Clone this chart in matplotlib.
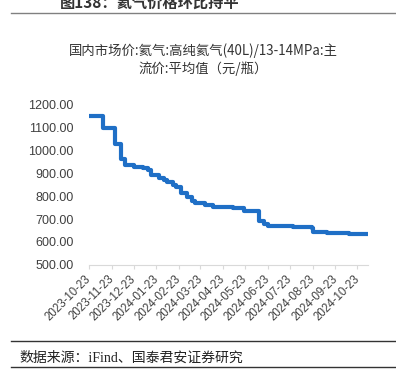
import matplotlib
matplotlib.use("Agg")
import matplotlib.pyplot as plt
import numpy as np
import pandas as pd

plt.rcParams['font.family'] = ['Liberation Sans', 'Noto Sans CJK SC', 'DejaVu Sans']

# price change points (step series)
change_dates = ['2023-10-23', '2023-11-11', '2023-11-28', '2023-12-06', '2023-12-11',
                '2023-12-24', '2024-01-04', '2024-01-12', '2024-01-16', '2024-01-27',
                '2024-02-02', '2024-02-07', '2024-02-15', '2024-02-18', '2024-02-26',
                '2024-03-04', '2024-03-11', '2024-03-15', '2024-03-29', '2024-04-09',
                '2024-05-06', '2024-05-21', '2024-06-11', '2024-06-17', '2024-06-23',
                '2024-07-27', '2024-08-22', '2024-08-24', '2024-09-11', '2024-10-11',
                '2024-11-06']
change_values = [1150, 1100, 1030, 965, 935,
                 930, 925, 915, 893, 880,
                 870, 862, 850, 840, 813,
                 795, 779, 769, 762, 752,
                 747, 737, 693, 677, 668,
                 665, 660, 645, 638, 633,
                 633]

tick_labels = ['2023-10-23', '2023-11-23', '2023-12-23', '2024-01-23', '2024-02-23',
               '2024-03-23', '2024-04-23', '2024-05-23', '2024-06-23', '2024-07-23',
               '2024-08-23', '2024-09-23', '2024-10-23']

dates = pd.to_datetime(change_dates)
ticks = pd.to_datetime(tick_labels)

fig = plt.figure(figsize=(3.96, 3.86), dpi=100)
ax = fig.add_axes([0.2247, 0.3142, 0.7039, 0.4138])

ax.plot(dates, change_values, drawstyle='steps-post', color='#1f6fc6', lw=3,
        solid_capstyle='round', solid_joinstyle='round')

ax.set_xlim(ticks[0], pd.Timestamp('2024-11-06'))
ax.set_ylim(500, 1200)
ax.set_yticks(np.arange(500, 1201, 100))
ax.set_yticklabels([f'{v:.2f}' for v in range(500, 1201, 100)])
ax.set_xticks(ticks)
ax.set_xticklabels(tick_labels, rotation=45, ha='right', va='center',
                   rotation_mode='anchor')

for s in ['top', 'right', 'left']:
    ax.spines[s].set_visible(False)
ax.spines['bottom'].set_color('#d9d9d9')
ax.tick_params(axis='y', length=0, pad=11, labelsize=9, labelcolor='#404040')
ax.tick_params(axis='x', length=3, color='#d9d9d9', pad=6, labelsize=8.3, labelcolor='#404040')

cjk = ['Noto Sans CJK SC', 'DejaVu Sans']
fig.text(0.513, 0.870, '国内市场价:氦气:高纯氦气(40L)/13-14MPa:主', ha='center', va='center',
         fontsize=9.6, color='#333333', family=cjk)
fig.text(0.513, 0.821, '流价:平均值（元/瓶）', ha='center', va='center',
         fontsize=9.6, color='#333333', family=cjk)

# header / footer decorations (header is cut by the top edge, as in the source)
fig.text(0.15, 0.993, '图138：氦气价格环比持平', ha='left', va='center', fontsize=11,
         fontweight='bold', color='#333333', family=cjk)
fig.add_artist(plt.Line2D([0.028, 1.0], [0.966, 0.966], color='#808080', lw=1))
fig.add_artist(plt.Line2D([0.028, 1.0], [0.117, 0.117], color='#333333', lw=1))
fig.add_artist(plt.Line2D([0.028, 1.0], [0.050, 0.050], color='#333333', lw=1))
fig.text(0.05, 0.073, '数据来源：iFind、国泰君安证券研究', ha='left', va='center',
         fontsize=10, color='#222222', family=['Liberation Serif', 'Noto Sans CJK SC'])

fig.savefig('out.png', dpi=100)
